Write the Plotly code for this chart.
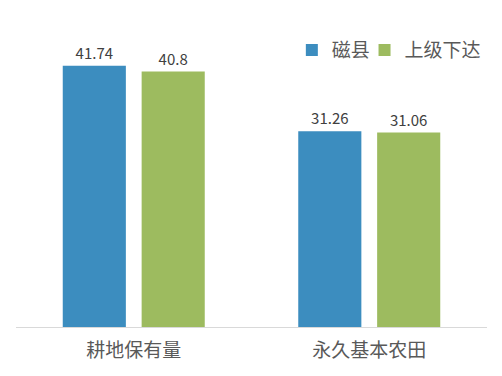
import plotly.graph_objects as go

categories = ["耕地保有量", "永久基本农田"]
series_names = ["磁县", "上级下达"]
cixian = [41.74, 31.26]
shangji = [40.8, 31.06]
colors = ["#3c8dbf", "#9dbb5f"]

FONT = "Noto Sans CJK SC, Noto Sans, sans-serif"

fig = go.Figure()
for i, (name, vals, col) in enumerate(zip(series_names, [cixian, shangji], colors)):
    fig.add_trace(go.Bar(
        x=categories, y=vals, name=name, marker_color=col,
        marker_line_width=0,
        text=[f"{v:g}" for v in vals], textposition="outside",
        textfont=dict(size=15, color="#404040", family=FONT),
        cliponaxis=False,
        legend="legend" if i == 0 else "legend2",
    ))

leg_common = dict(orientation="h", yanchor="top", y=0.945,
                  font=dict(size=19, color="#595959", family=FONT),
                  itemwidth=30, bgcolor="rgba(0,0,0,0)", xanchor="right")

fig.update_layout(
    width=502, height=376,
    margin=dict(l=16, r=15, t=14, b=49),
    paper_bgcolor="white", plot_bgcolor="white",
    barmode="group", bargap=0.33, bargroupgap=0.2,
    font=dict(family=FONT, color="#595959"),
    showlegend=True,
    legend=dict(x=0.764, **leg_common),
    legend2=dict(x=0.999, **leg_common),
)
fig.update_xaxes(showline=True, linecolor="#d9d9d9", linewidth=1, ticks="",
                 tickfont=dict(size=19, color="#595959", family=FONT),
                 ticklabelstandoff=6)
fig.update_yaxes(range=[0, 50], visible=False, showgrid=False, zeroline=False)

fig.write_html("out.html")
